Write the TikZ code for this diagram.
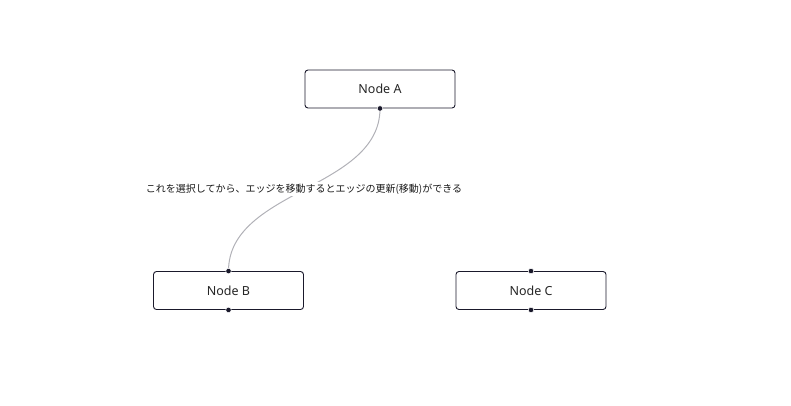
\documentclass[tikz,border=0pt]{standalone}
\usepackage{fontspec}
\setmainfont{Noto Sans}
\newfontfamily\jpfont{Noto Sans CJK JP}
\definecolor{flowdark}{HTML}{1A192B}
\definecolor{flowedge}{HTML}{B1B1B7}
\tikzset{
  flownode/.style={draw=flowdark, line width=0.9pt, rounded corners=3pt,
    fill=white, minimum width=150pt, minimum height=38pt, inner sep=0pt,
    font=\fontsize{12.5}{14}\selectfont, text=black!85},
  handle/.style={circle, fill=flowdark, draw=white, line width=0.5pt,
    inner sep=0pt, minimum size=5.5pt},
  flowedgeline/.style={draw=flowedge, line width=1pt}
}
\begin{document}
\begin{tikzpicture}[x=1pt, y=-1pt]
  \useasboundingbox (0,0) rectangle (791,405);
  % nodes
  \node[flownode] (A) at (380, 89) {Node A};
  \node[flownode] (B) at (228.5, 290.5) {Node B};
  \node[flownode] (C) at (531, 290.5) {Node C};
  % edge
  \coordinate (AC) at (380, 189.5); \coordinate (BC) at (228.5, 189.5);
  \draw[flowedgeline] (A.south) .. controls (AC) and (BC) .. (B.north);
  \node[fill=white, inner sep=2pt, font=\jpfont\fontsize{10}{12}\selectfont,
    text=black!90] (lbl) at (304, 189) {これを選択してから、エッジを移動するとエッジの更新(移動)ができる};
  % handles
  \node[handle] at (A.south) {};
  \foreach \n in {B, C} {
    \node[handle] at (\n.north) {};
    \node[handle] at (\n.south) {};
  }
\end{tikzpicture}
\end{document}
